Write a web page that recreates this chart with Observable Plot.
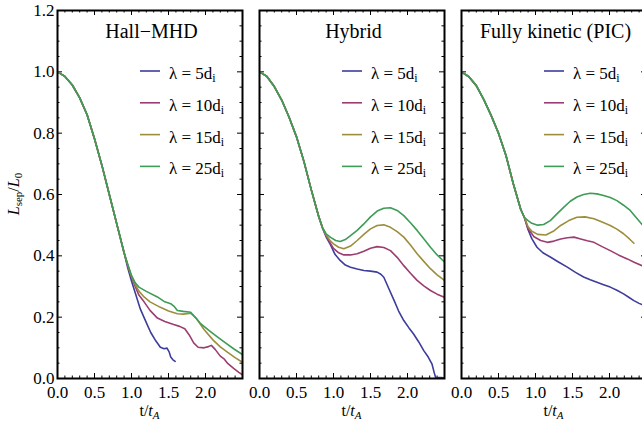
<!DOCTYPE html>
<html>
<head>
<meta charset="utf-8">
<script src="https://cdn.jsdelivr.net/npm/d3@7"></script>
<script src="https://cdn.jsdelivr.net/npm/@observablehq/plot@0.6"></script>
<style>
  html, body { margin: 0; padding: 0; background: #fff; overflow: hidden; }
  #wrap { position: relative; width: 642px; height: 429px; overflow: hidden; font-family: "Liberation Serif", "Times New Roman", serif; }
  #overlay { position: absolute; left: 0; top: 0; pointer-events: none; }
</style>
</head>
<body>
<div id="wrap"></div>
<script>
// ---- labels / ticks ----
const panelTitles = ["Hall\u2212MHD", "Hybrid", "Fully kinetic (PIC)"];
const lambdas = [5, 10, 15, 25];
const seriesColors = ["#3d3d9c", "#9c3d72", "#9c8e3d", "#3d9c56"];
const xTicks = [0, 0.5, 1.0, 1.5, 2.0];
const xMajor = [0, 0.5, 1.0, 1.5, 2.0, 2.5];
const xMinor = [0.1,0.2,0.3,0.4,0.6,0.7,0.8,0.9,1.1,1.2,1.3,1.4,1.6,1.7,1.8,1.9,2.1,2.2,2.3,2.4];
const yTicks = [0, 0.2, 0.4, 0.6, 0.8, 1.0, 1.2];
const yMinor = [0.05,0.1,0.15,0.25,0.3,0.35,0.45,0.5,0.55,0.65,0.7,0.75,0.85,0.9,0.95,1.05,1.1,1.15];

// ---- Hall-MHD ----
const hallCommon = [[0,1.000],[0.1,0.985],[0.2,0.957],[0.3,0.915],[0.4,0.860],[0.5,0.782],[0.6,0.695],[0.7,0.600],[0.8,0.505],[0.9,0.410]];
const hall5 = [[0.95,0.360],[1.0,0.318],[1.05,0.280],[1.12,0.226],[1.2,0.182],[1.26,0.150],[1.33,0.122],[1.39,0.102],[1.44,0.097],[1.48,0.099],[1.51,0.086],[1.53,0.070],[1.56,0.061],[1.59,0.056]];
const hall10 = [[0.95,0.368],[1.0,0.330],[1.05,0.300],[1.1,0.272],[1.17,0.250],[1.25,0.222],[1.35,0.197],[1.45,0.186],[1.57,0.176],[1.65,0.170],[1.72,0.162],[1.78,0.142],[1.84,0.116],[1.9,0.102],[1.98,0.100],[2.04,0.104],[2.08,0.108],[2.13,0.095],[2.2,0.073],[2.25,0.064],[2.3,0.049],[2.38,0.033],[2.45,0.020],[2.5,0.012]];
const hall15 = [[0.95,0.370],[1.0,0.333],[1.05,0.306],[1.1,0.285],[1.17,0.266],[1.25,0.250],[1.39,0.232],[1.5,0.220],[1.62,0.211],[1.7,0.210],[1.8,0.213],[1.88,0.195],[1.98,0.160],[2.1,0.126],[2.2,0.103],[2.3,0.085],[2.4,0.068],[2.5,0.053]];
const hall25 = [[0.95,0.372],[1.0,0.336],[1.05,0.312],[1.1,0.298],[1.2,0.284],[1.35,0.266],[1.45,0.250],[1.53,0.244],[1.58,0.234],[1.62,0.222],[1.7,0.219],[1.8,0.216],[1.86,0.200],[1.93,0.180],[2.05,0.156],[2.16,0.136],[2.27,0.116],[2.38,0.097],[2.5,0.078]];

// ---- Hybrid ----
const hybCommon = [[0,1.000],[0.1,0.985],[0.2,0.952],[0.3,0.908],[0.4,0.852],[0.5,0.788],[0.6,0.708],[0.7,0.615],[0.8,0.528],[0.85,0.492]];
const hyb5 = [[0.9,0.462],[0.96,0.436],[1.02,0.405],[1.09,0.385],[1.16,0.370],[1.23,0.363],[1.32,0.357],[1.41,0.352],[1.5,0.350],[1.59,0.347],[1.64,0.340],[1.68,0.330],[1.75,0.292],[1.82,0.254],[1.88,0.220],[1.95,0.189],[2.02,0.165],[2.08,0.146],[2.15,0.120],[2.22,0.091],[2.28,0.070],[2.33,0.048],[2.36,0.020],[2.38,0.003],[2.45,0.003],[2.5,0.002]];
const hyb10 = [[0.9,0.465],[0.96,0.440],[1.0,0.424],[1.07,0.410],[1.14,0.403],[1.23,0.403],[1.32,0.407],[1.41,0.415],[1.5,0.425],[1.59,0.430],[1.68,0.427],[1.77,0.417],[1.86,0.395],[1.95,0.368],[2.04,0.343],[2.13,0.320],[2.22,0.302],[2.31,0.287],[2.4,0.275],[2.5,0.265]];
const hyb15 = [[0.9,0.468],[0.96,0.448],[1.0,0.439],[1.07,0.428],[1.14,0.423],[1.23,0.432],[1.32,0.450],[1.41,0.470],[1.5,0.488],[1.59,0.499],[1.68,0.501],[1.77,0.493],[1.86,0.479],[1.95,0.461],[2.04,0.435],[2.13,0.407],[2.22,0.382],[2.31,0.358],[2.4,0.338],[2.5,0.320]];
const hyb25 = [[0.9,0.472],[0.96,0.460],[1.03,0.450],[1.09,0.447],[1.16,0.453],[1.23,0.466],[1.32,0.483],[1.41,0.504],[1.5,0.527],[1.59,0.546],[1.68,0.555],[1.77,0.557],[1.86,0.548],[1.95,0.531],[2.04,0.508],[2.13,0.483],[2.22,0.456],[2.31,0.428],[2.4,0.403],[2.5,0.380]];

// ---- Fully kinetic (PIC) ----
const picCommon = [[0,1.000],[0.1,0.984],[0.2,0.955],[0.3,0.910],[0.4,0.858],[0.5,0.800],[0.6,0.728],[0.7,0.635],[0.8,0.552],[0.85,0.525]];
const pic5 = [[0.9,0.485],[0.95,0.456],[1.02,0.428],[1.1,0.410],[1.2,0.396],[1.31,0.380],[1.43,0.363],[1.54,0.346],[1.65,0.331],[1.74,0.322],[1.83,0.314],[1.92,0.306],[2.01,0.298],[2.1,0.288],[2.19,0.276],[2.26,0.265],[2.33,0.254],[2.4,0.245],[2.44,0.241],[2.5,0.236]];
const pic10 = [[0.9,0.488],[0.98,0.462],[1.07,0.450],[1.16,0.444],[1.25,0.448],[1.34,0.455],[1.43,0.459],[1.52,0.461],[1.61,0.455],[1.7,0.449],[1.79,0.444],[1.9,0.430],[2.01,0.417],[2.12,0.403],[2.24,0.390],[2.34,0.378],[2.44,0.368],[2.5,0.363]];
const pic15 = [[0.9,0.495],[0.95,0.480],[1.03,0.470],[1.14,0.468],[1.24,0.480],[1.34,0.499],[1.45,0.515],[1.56,0.526],[1.67,0.527],[1.79,0.521],[1.9,0.510],[2.01,0.499],[2.1,0.487],[2.19,0.472],[2.27,0.455],[2.33,0.441]];
const pic25 = [[0.9,0.515],[0.95,0.506],[1.03,0.500],[1.11,0.502],[1.2,0.515],[1.29,0.537],[1.38,0.558],[1.47,0.578],[1.56,0.592],[1.65,0.600],[1.74,0.604],[1.83,0.602],[1.92,0.597],[2.01,0.590],[2.1,0.580],[2.19,0.565],[2.28,0.548],[2.36,0.525],[2.44,0.502],[2.5,0.490]];

const panelSeries = [
  [hallCommon, [hall5, hall10, hall15, hall25]],
  [hybCommon, [hyb5, hyb10, hyb15, hyb25]],
  [picCommon, [pic5, pic10, pic15, pic25]]
];

// ---- layout ----
const FW = 185, FH = 368, TOP = 10, MB = 40, MR = 10;
const frameLefts = [57, 259, 461];
const FONT = "Liberation Serif, Times New Roman, serif";
const wrap = document.getElementById("wrap");

panelSeries.forEach(([common, branches], p) => {
  const rows = [];
  branches.forEach((br, i) => {
    common.concat(br).forEach(([t, L]) => rows.push({t, L, s: "λ" + lambdas[i]}));
  });
  const showY = p === 0;
  const mL = showY ? 57 : 10;
  const tickMarks = [
    Plot.tickX(xMajor, {x: d => d, insetTop: FH - 5, stroke: "black"}),
    Plot.tickX(xMajor, {x: d => d, insetBottom: FH - 5, stroke: "black"}),
    Plot.tickX(xMinor, {x: d => d, insetTop: FH - 2.5, stroke: "black"}),
    Plot.tickX(xMinor, {x: d => d, insetBottom: FH - 2.5, stroke: "black"}),
    Plot.tickY(yTicks, {y: d => d, insetRight: FW - 5, stroke: "black"}),
    Plot.tickY(yTicks, {y: d => d, insetLeft: FW - 5, stroke: "black"}),
    Plot.tickY(yMinor, {y: d => d, insetRight: FW - 2.5, stroke: "black"}),
    Plot.tickY(yMinor, {y: d => d, insetLeft: FW - 2.5, stroke: "black"})
  ];
  const chart = Plot.plot({
    width: mL + FW + MR,
    height: TOP + FH + MB,
    marginLeft: mL, marginRight: MR, marginTop: TOP, marginBottom: MB,
    style: {fontFamily: FONT, fontSize: "17px", background: "transparent", color: "black", overflow: "visible"},
    x: {domain: [0, 2.5]},
    y: {domain: [0, 1.2], axis: showY ? undefined : null},
    color: {domain: lambdas.map(l => "λ" + l), range: seriesColors},
    marks: [
      ...tickMarks,
      Plot.line(rows, {x: "t", y: "L", z: "s", stroke: "s", strokeWidth: 1.6, clip: true}),
      Plot.frame({stroke: "black", strokeWidth: 2}),
      Plot.axisX({ticks: xTicks, tickSize: 0, tickPadding: 7, tickFormat: d3.format(".1f"), label: null, fill: "black"}),
      showY ? Plot.axisY({ticks: yTicks, tickSize: 0, tickPadding: 3, tickFormat: d3.format(".1f"), label: null, fill: "black"}) : null
    ]
  });
  chart.style.position = "absolute";
  chart.style.left = (frameLefts[p] - mL) + "px";
  chart.style.top = "0px";
  wrap.appendChild(chart);
});

// ---- overlay: titles, legends, axis labels ----
const NS = "http://www.w3.org/2000/svg";
const ov = document.createElementNS(NS, "svg");
ov.setAttribute("id", "overlay");
ov.setAttribute("width", 642);
ov.setAttribute("height", 429);
ov.setAttribute("font-family", FONT);
wrap.appendChild(ov);

function el(tag, attrs, parent) {
  const e = document.createElementNS(NS, tag);
  for (const k in attrs) e.setAttribute(k, attrs[k]);
  (parent || ov).appendChild(e);
  return e;
}
function tspan(parent, text, attrs) {
  const t = el("tspan", attrs || {}, parent);
  t.textContent = text;
  return t;
}

frameLefts.forEach((fl, p) => {
  const cx = fl + FW / 2;
  const title = el("text", {x: cx + 2, y: 38, "text-anchor": "middle", "font-size": 20});
  title.textContent = panelTitles[p];

  lambdas.forEach((l, i) => {
    const ly = 71 + 31.8 * i;
    el("line", {x1: fl + 83, x2: fl + 103, y1: ly, y2: ly, stroke: seriesColors[i], "stroke-width": 1.6});
    const t = el("text", {x: fl + 112, y: ly + 8, "font-size": 17});
    tspan(t, "λ = " + l + "d");
    tspan(t, "i", {"font-size": 12, dy: 3});
  });

  const xl = el("text", {x: cx, y: 416, "text-anchor": "middle", "font-size": 16});
  tspan(xl, "t/");
  tspan(xl, "t", {"font-style": "italic"});
  tspan(xl, "A", {"font-style": "italic", "font-size": 11, dy: 3});
});

const yl = el("text", {transform: "translate(19,194) rotate(-90)", "text-anchor": "middle", "font-size": 16});
tspan(yl, "L", {"font-style": "italic"});
tspan(yl, "sep", {"font-size": 11, dy: 3});
tspan(yl, "/", {dy: -3});
tspan(yl, "L", {"font-style": "italic"});
tspan(yl, "0", {"font-size": 11, dy: 3});
</script>
</body>
</html>
